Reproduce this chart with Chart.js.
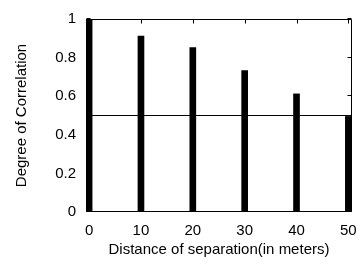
<!DOCTYPE html>
<html>
<head>
<meta charset="utf-8">
<script src="https://cdn.jsdelivr.net/npm/chart.js@4"></script>
<style>
  html, body { margin: 0; padding: 0; background: #fff; }
  #wrap { width: 358px; height: 257px; }
</style>
</head>
<body>
<div id="wrap"><canvas id="corrChart" width="358" height="257"></canvas></div>
<script>
// distance (m) vs degree of correlation
var distances = [0, 10, 20, 30, 40, 50];
var correlation = [1.0, 0.912, 0.852, 0.733, 0.612, 0.495];
var threshold = 0.5;
var xTicks = [0, 10, 20, 30, 40, 50];
var yTicks = [0, 0.2, 0.4, 0.6, 0.8, 1];

var xMin = -0.6, xMax = 50.7;
var fontFamily = '"Liberation Sans", Arial, sans-serif';

Chart.defaults.font.family = fontFamily;
Chart.defaults.font.size = 15;
Chart.defaults.color = '#000';

// gnuplot-like frame with inward ticks
var framePlugin = {
    id: 'frame',
    afterDraw: function(chart) {
        var ctx = chart.ctx, a = chart.chartArea;
        var xs = chart.scales.x, ys = chart.scales.y;
        var l = Math.round(a.left) + 0.5, r = Math.round(a.right) - 0.5;
        var t = Math.round(a.top) + 0.5, b = Math.round(a.bottom) - 0.5;
        ctx.save();
        ctx.strokeStyle = '#000';
        ctx.lineWidth = 1;
        ctx.beginPath();
        ctx.moveTo(l, t); ctx.lineTo(r, t); ctx.lineTo(r, b); ctx.lineTo(l, b); ctx.closePath();
        xTicks.forEach(function(v) {
            var px = Math.round(xs.getPixelForValue(v)) + 0.5;
            ctx.moveTo(px, b); ctx.lineTo(px, b - 4);
            ctx.moveTo(px, t); ctx.lineTo(px, t + 4);
        });
        yTicks.forEach(function(v) {
            var py = Math.round(ys.getPixelForValue(v)) - 0.5;
            ctx.moveTo(l, py); ctx.lineTo(l + 4, py);
            ctx.moveTo(r, py); ctx.lineTo(r - 4, py);
        });
        ctx.stroke();
        ctx.restore();
    }
};

new Chart(document.getElementById('corrChart'), {
    type: 'bar',
    data: {
        datasets: [{
            type: 'line',
            data: [{x: xMin, y: threshold}, {x: xMax, y: threshold}],
            borderColor: '#000',
            borderWidth: 1,
            pointRadius: 0,
            fill: false
        }, {
            data: distances.map(function(d, i) { return {x: d, y: correlation[i]}; }),
            backgroundColor: '#000',
            barThickness: 6
        }]
    },
    options: {
        responsive: false,
        animation: false,
        layout: { padding: { left: 0, top: 15, right: 6, bottom: 0 } },
        plugins: { legend: { display: false }, tooltip: { enabled: false } },
        scales: {
            x: {
                type: 'linear',
                offset: false,
                min: xMin, max: xMax,
                afterBuildTicks: function(s) { s.ticks = xTicks.map(function(v) { return {value: v}; }); },
                afterFit: function(s) { s.height = 45; s.paddingLeft = 0; s.paddingRight = 0; },
                grid: { display: false, drawTicks: false, offset: false },
                border: { display: false },
                ticks: { padding: 10, maxRotation: 0, callback: function(v) { return v; } },
                title: { display: true, text: 'Distance of separation(in meters)', font: { lineHeight: 1 }, padding: { top: 0, bottom: 0 } }
            },
            y: {
                min: 0, max: 1,
                afterBuildTicks: function(s) { s.ticks = yTicks.map(function(v) { return {value: v}; }); },
                afterFit: function(s) { s.width = 86; },
                grid: { display: false, drawTicks: false },
                border: { display: false },
                ticks: { padding: 10, callback: function(v) { return v; } },
                title: { display: true, text: 'Degree of Correlation', padding: { top: 13, bottom: 0 } }
            }
        }
    },
    plugins: [framePlugin]
});
</script>
</body>
</html>
